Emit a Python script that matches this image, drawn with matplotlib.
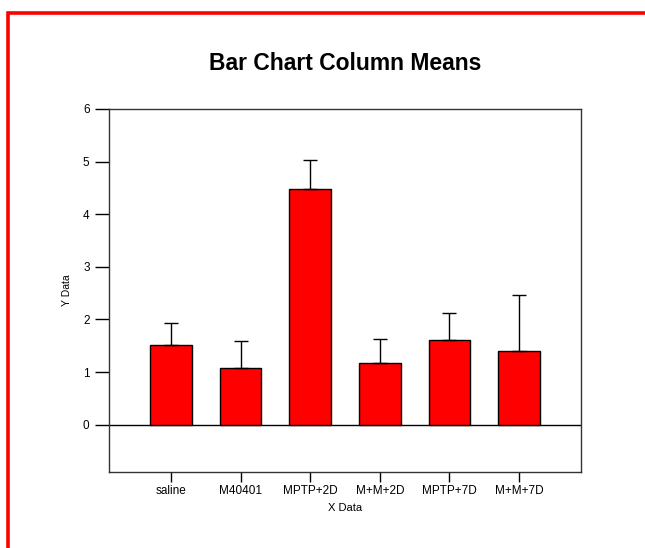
import matplotlib.pyplot as plt
from matplotlib.lines import Line2D

plt.rcParams['font.family'] = ['Liberation Sans', 'DejaVu Sans']

groups = ["saline", "M40401", "MPTP+2D", "M+M+2D", "MPTP+7D", "M+M+7D"]
means = [1.52, 1.07, 4.48, 1.17, 1.60, 1.40]
errors = [0.41, 0.52, 0.56, 0.45, 0.52, 1.06]
yticks = [0, 1, 2, 3, 4, 5, 6]

fig = plt.figure(figsize=(6.45, 5.48), dpi=100)
W, H = 645, 548
ax = fig.add_axes([109 / W, 1 - 472 / H, (581 - 109) / W, (472 - 109) / H])

x = list(range(len(groups)))
ax.bar(x, means, width=0.6, color="#ff0000", edgecolor="black", linewidth=1, zorder=2)
ax.errorbar(x, means, yerr=[[0] * len(errors), errors], fmt="none", ecolor="black",
            elinewidth=1, capsize=5, capthick=1, zorder=3)
ax.axhline(0, color="black", linewidth=1, zorder=1)

ax.set_xlim(-0.89, 5.89)
ax.set_ylim(-0.9, 6)
ax.set_xticks(x)
ax.set_xticklabels(groups, fontsize=8.5)
ax.set_yticks(yticks)
ax.set_yticklabels([str(v) for v in yticks], fontsize=8.5)
ax.tick_params(axis="y", direction="out", length=10, width=1, pad=4)
ax.tick_params(axis="x", direction="out", length=7, width=1, pad=2)
for s in ax.spines.values():
    s.set_linewidth(1)
    s.set_color("#333333")

ax.set_xlabel("X Data", fontsize=8, labelpad=5)
ax.set_ylabel("Y Data", fontsize=7.5, labelpad=8)
ax.set_title("Bar Chart Column Means", fontsize=16.5, fontweight="bold", pad=28)

# red frame around the page
fig.add_artist(Line2D([7.5 / W, 7.5 / W, 1], [0, 1 - 13 / H, 1 - 13 / H],
                      transform=fig.transFigure, color="#ff0000", linewidth=2.6,
                      solid_joinstyle="miter"))

fig.savefig("out.png", dpi=100)
